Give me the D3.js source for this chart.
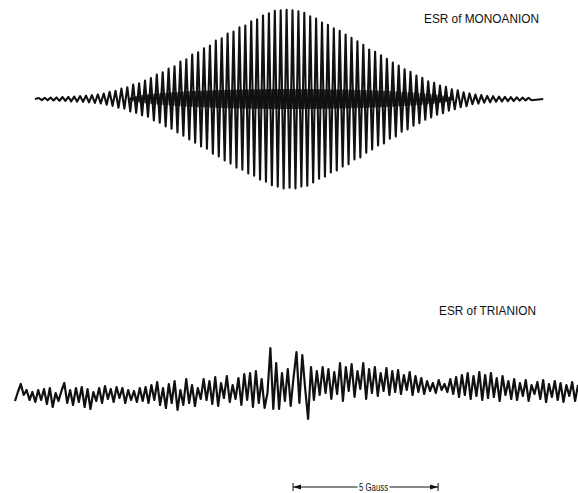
<!DOCTYPE html>
<html>
<head>
<meta charset="utf-8">
<script src="https://cdn.jsdelivr.net/npm/d3@7"></script>
<style>
  html, body { margin: 0; padding: 0; background: #fff; }
  svg { display: block; }
  text { font-family: "Liberation Sans", Arial, sans-serif; fill: #111; }
</style>
</head>
<body>
<svg id="esr"></svg>
<script>
// field in gauss, measured from the centre line of the monoanion
const fieldDomain = [-9.41, 9.99];

// monoanion: equally spaced lines, peak / trough heights read per line
const monoSpacing = 0.2033;
const monoCentre = 42;
const monoRange = [-8.72, 8.79];
const monoPeak = [
    1.0, 1.2, 1.5, 1.6, 2.0, 2.2, 2.4, 2.9, 3.3, 3.9,
    4.6, 5.4, 7.2, 8.3, 10.4, 11.8, 14.5, 15.6, 18.4, 21.0,
    24.5, 26.6, 30.5, 32.8, 37.4, 39.6, 44.5, 46.8, 50.6, 53.5,
    58.4, 60.7, 65.5, 67.4, 71.6, 73.5, 77.6, 79.8, 83.4, 85.7,
    88.3, 88.6, 89.2, 88.7, 87.8, 86.2, 82.6, 80.4, 76.5, 74.2,
    70.6, 68.3, 64.5, 61.2, 57.6, 54.3, 49.5, 47.2, 43.6, 40.3,
    36.5, 33.4, 29.6, 27.2, 23.5, 21.3, 17.6, 16.2, 13.5, 12.2,
    9.6, 8.7, 6.8, 5.6, 4.4, 3.9, 3.1, 2.8, 2.4, 2.2,
    1.9, 1.7, 1.5, 1.2
];
const monoTrough = [
    1.1, 1.3, 1.4, 1.8, 1.9, 2.3, 2.6, 2.8, 3.4, 4.0,
    4.4, 5.8, 6.9, 8.8, 9.7, 12.4, 13.8, 16.3, 17.6, 21.5,
    23.6, 27.4, 29.6, 33.5, 36.6, 40.5, 43.7, 47.5, 49.8, 54.6,
    57.5, 61.4, 64.6, 68.6, 70.8, 74.5, 76.7, 80.6, 82.8, 86.2,
    87.6, 89.4, 88.8, 89.5, 87.4, 86.8, 83.5, 79.8, 77.6, 73.5,
    71.4, 67.6, 65.3, 60.5, 58.4, 53.6, 50.4, 46.5, 44.4, 39.6,
    37.4, 32.8, 30.5, 26.6, 24.3, 20.6, 18.4, 15.7, 14.2, 11.7,
    10.3, 8.2, 7.3, 5.3, 4.6, 3.7, 3.3, 2.7, 2.5, 2.1,
    2.0, 1.6, 1.4, 1.3
];

// trianion: successive extremes of the trace, one every triStep gauss
const triStart = -9.41;
const triStep = 0.1;
const triValues = [
    -4, 5, 13, 2, 7, -3, 5, -5, 7, -3,
    8, -7, 9, -10, 4, -4, 6, 14, -6, 7,
    -8, 9, -5, 10, -10, 8, -12, 5, -4, 9,
    -6, 11, -2, 8, -5, 10, -1, 9, -6, 7,
    -3, 6, -5, 9, -4, 10, -6, 12, -3, 15,
    -8, 9, -11, 13, -6, 16, -13, 7, -8, 18,
    -6, 12, -9, 9, -2, 18, -3, 16, -7, 20,
    -9, 14, -1, 21, -5, 12, -2, 19, -8, 23,
    -3, 24, -10, 26, -6, 18, -11, 4, 49, -12,
    34, -12, 24, -4, 28, -9, 20, 45, -6, 42,
    8, -22, 30, -3, 26, 2, 30, 4, 28, -2,
    25, 3, 34, -4, 30, 6, 33, 0, 26, 8,
    34, -2, 28, 4, 30, 1, 24, 6, 29, 2,
    26, 5, 27, 3, 22, 7, 25, 2, 21, 5,
    19, 3, 16, 6, 14, 4, 17, 7, 13, 5,
    18, 3, 20, 0, 22, 2, 24, -2, 21, 1,
    25, -3, 22, -1, 24, 0, 19, -4, 21, 2,
    16, -2, 18, -3, 14, 1, 17, -4, 12, 3,
    15, -2, 17, -5, 13, 0, 16, -3, 14, -5,
    12, 1, 15, -4, 12
];

const scaleBar = [0.17, 5.17];
const scaleLabel = "5 Gauss";
const titles = ["ESR of MONOANION", "ESR of TRIANION"];

const width = 578, height = 493;

const svg = d3.select("#esr")
    .attr("width", width)
    .attr("height", height)
    .style("background", "#fff");

const x = d3.scaleLinear().domain(fieldDomain).range([15, 578]);
const yMono = d3.scaleLinear().domain([-100, 100]).range([199, -1]);
const yTri = d3.scaleLinear().domain([-30, 60]).range([427, 337]);

// monoanion trace: flat start, zig-zag per line, flat end
const monoPts = [[monoRange[0], 0]];
monoPeak.forEach((p, i) => {
    const f = (i - monoCentre) * monoSpacing;
    monoPts.push([f - monoSpacing * 0.25, p]);
    monoPts.push([f + monoSpacing * 0.25, -monoTrough[i]]);
});
monoPts.push([monoRange[1], 0]);

const monoLine = d3.line()
    .x(d => x(d[0]))
    .y(d => yMono(d[1]));

svg.append("path")
    .attr("d", monoLine(monoPts))
    .attr("fill", "none")
    .attr("stroke", "#111")
    .attr("stroke-width", 2.1)
    .attr("stroke-linejoin", "round");

// the unresolved structure makes the trace heavy near the baseline
svg.append("clipPath").attr("id", "band")
    .append("ellipse")
    .attr("cx", x(0.1)).attr("cy", yMono(0))
    .attr("rx", x(5.6) - x(0)).attr("ry", yMono(-10) - yMono(0));

svg.append("path")
    .attr("d", monoLine(monoPts))
    .attr("clip-path", "url(#band)")
    .attr("fill", "none")
    .attr("stroke", "#111")
    .attr("stroke-width", 3.0);

// trianion trace
const triLine = d3.line()
    .x((d, i) => x(triStart + i * triStep))
    .y(d => yTri(d));

svg.append("path")
    .attr("d", triLine(triValues))
    .attr("fill", "none")
    .attr("stroke", "#111")
    .attr("stroke-width", 2.2)
    .attr("stroke-linejoin", "round");

// labels
svg.append("text")
    .attr("x", 424).attr("y", 23)
    .attr("font-size", 13)
    .attr("textLength", 115).attr("lengthAdjust", "spacingAndGlyphs")
    .text(titles[0]);

svg.append("text")
    .attr("x", 439).attr("y", 315)
    .attr("font-size", 13)
    .attr("textLength", 97).attr("lengthAdjust", "spacingAndGlyphs")
    .text(titles[1]);

// 5 gauss scale bar
const barY = 487;
const bar = svg.append("g").attr("stroke", "#111").attr("fill", "#111");
const x0 = x(scaleBar[0]), x1 = x(scaleBar[1]);
const xm = (x0 + x1) / 2 + 8;

bar.append("line").attr("x1", x0).attr("x2", x0).attr("y1", barY - 4).attr("y2", barY + 4).attr("stroke-width", 1);
bar.append("line").attr("x1", x1).attr("x2", x1).attr("y1", barY - 4).attr("y2", barY + 4).attr("stroke-width", 1);
bar.append("line").attr("x1", x0).attr("x2", xm - 16).attr("y1", barY).attr("y2", barY).attr("stroke-width", 1);
bar.append("line").attr("x1", xm + 16).attr("x2", x1).attr("y1", barY).attr("y2", barY).attr("stroke-width", 1);
bar.append("path").attr("stroke", "none")
    .attr("d", `M${x0},${barY} l8,-2.5 l0,5 z`);
bar.append("path").attr("stroke", "none")
    .attr("d", `M${x1},${barY} l-8,-2.5 l0,5 z`);

svg.append("text")
    .attr("x", xm).attr("y", barY + 4)
    .attr("text-anchor", "middle")
    .attr("font-size", 11.5)
    .attr("textLength", 29).attr("lengthAdjust", "spacingAndGlyphs")
    .text(scaleLabel);
</script>
</body>
</html>
